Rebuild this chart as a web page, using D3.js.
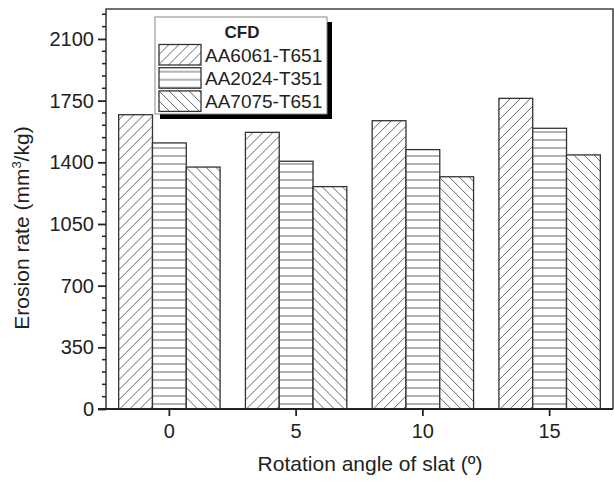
<!DOCTYPE html>
<html>
<head>
<meta charset="utf-8">
<script src="https://cdn.jsdelivr.net/npm/d3@7"></script>
<style>
  body { margin: 0; background: #fff; }
  svg { font-family: "Liberation Sans", Arial, sans-serif; }
</style>
</head>
<body>
<svg width="614" height="482"></svg>
<script>
// chart data
var angles = ["0", "5", "10", "15"];
var seriesNames = ["AA6061-T651", "AA2024-T351", "AA7075-T651"];
var aa6061 = [1670, 1570, 1636, 1763];
var aa2024 = [1510, 1406, 1472, 1593];
var aa7075 = [1373, 1262, 1318, 1442];
var yTicks = [0, 350, 700, 1050, 1400, 1750, 2100];

var seriesValues = [aa6061, aa2024, aa7075];
var patternIds = ["hatchFwd", "hatchHor", "hatchBack"];

var svg = d3.select("svg");
var plotL = 106, plotR = 613, plotT = 9, plotB = 409;

var x0 = d3.scaleBand()
    .domain(angles)
    .range([plotL, plotR])
    .paddingInner(0.2)
    .paddingOuter(0.1);

var x1 = d3.scaleBand()
    .domain(seriesNames)
    .range([0, x0.bandwidth()]);

var y = d3.scaleLinear()
    .domain([0, 2270])
    .range([plotB, plotT]);

// hatch patterns
var defs = svg.append("defs");
function addPattern(id, path, w, h) {
    var p = defs.append("pattern")
        .attr("id", id)
        .attr("patternUnits", "userSpaceOnUse")
        .attr("width", w)
        .attr("height", h);
    p.append("rect").attr("width", w).attr("height", h).attr("fill", "#fff");
    p.append("path")
        .attr("d", path)
        .attr("stroke", "#666")
        .attr("stroke-width", 1)
        .attr("fill", "none");
}
addPattern("hatchFwd", "M0,10L10,0M-2,2L2,-2M8,12L12,8", 10, 10);
addPattern("hatchHor", "M0,4L8,4", 8, 8);
addPattern("hatchBack", "M0,0L10,10M8,-2L12,2M-2,8L2,12", 10, 10);

// bars
var rows = angles.map(function(a, i) {
    return seriesNames.map(function(s, j) {
        return { angle: a, series: s, value: seriesValues[j][i], k: j };
    });
});

svg.append("g").selectAll("g")
    .data(rows)
    .enter().append("g")
    .attr("transform", function(d, i) { return "translate(" + x0(angles[i]) + ",0)"; })
    .selectAll("rect")
    .data(function(d) { return d; })
    .enter().append("rect")
    .attr("x", function(d) { return x1(d.series); })
    .attr("y", function(d) { return y(d.value); })
    .attr("width", x1.bandwidth())
    .attr("height", function(d) { return plotB - y(d.value); })
    .attr("fill", function(d) { return "url(#" + patternIds[d.k] + ")"; })
    .attr("stroke", "#333")
    .attr("stroke-width", 1.3);

// frame
svg.append("path")
    .attr("d", "M" + plotL + "," + plotB + "V" + plotT + "H" + plotR + "V" + plotB)
    .attr("fill", "none")
    .attr("stroke", "#444")
    .attr("stroke-width", 1.6);

// y axis
var yAxis = d3.axisLeft(y)
    .tickValues(yTicks)
    .tickFormat(d3.format("d"))
    .tickSize(8)
    .tickPadding(4);
var gy = svg.append("g")
    .attr("transform", "translate(" + plotL + ",0)")
    .call(yAxis);
gy.select(".domain").remove();
gy.selectAll(".tick line").attr("stroke", "#222").attr("stroke-width", 1.8);
gy.selectAll(".tick text")
    .attr("font-size", 20)
    .attr("fill", "#222")
    .attr("font-family", "Liberation Sans, Arial, sans-serif");

// minor y ticks
var minor = d3.range(70, 2270, 70).filter(function(v) { return v % 350 !== 0; });
svg.append("g").selectAll("line")
    .data(minor)
    .enter().append("line")
    .attr("x1", plotL - 4)
    .attr("x2", plotL)
    .attr("y1", function(d) { return y(d); })
    .attr("y2", function(d) { return y(d); })
    .attr("stroke", "#222")
    .attr("stroke-width", 1.5);

// x axis
var xAxis = d3.axisBottom(x0)
    .tickSize(7)
    .tickPadding(8);
var gx = svg.append("g")
    .attr("transform", "translate(0," + plotB + ")")
    .call(xAxis);
gx.select(".domain").remove();
gx.selectAll(".tick line").attr("stroke", "#222").attr("stroke-width", 1.8);
gx.selectAll(".tick text")
    .attr("font-size", 20)
    .attr("fill", "#222")
    .attr("font-family", "Liberation Sans, Arial, sans-serif");

svg.append("line")
    .attr("x1", 98).attr("x2", plotR)
    .attr("y1", plotB).attr("y2", plotB)
    .attr("stroke", "#222")
    .attr("stroke-width", 1.8);

// axis titles
svg.append("text")
    .attr("x", 370)
    .attr("y", 471)
    .attr("text-anchor", "middle")
    .attr("font-size", 21)
    .attr("fill", "#222")
    .text("Rotation angle of slat (º)");

var yt = svg.append("text")
    .attr("transform", "translate(29,228) rotate(-90)")
    .attr("text-anchor", "middle")
    .attr("font-size", 21)
    .attr("fill", "#222");
yt.append("tspan").text("Erosion rate (mm");
yt.append("tspan").attr("font-size", 13).attr("dy", -8).text("3");
yt.append("tspan").attr("dy", 8).text("/kg)");

// legend
var lg = svg.append("g");
lg.append("rect")
    .attr("x", 160).attr("y", 22)
    .attr("width", 172).attr("height", 97)
    .attr("fill", "#000");
lg.append("rect")
    .attr("x", 155).attr("y", 17)
    .attr("width", 172).attr("height", 97)
    .attr("fill", "#fff")
    .attr("stroke", "#888")
    .attr("stroke-width", 1);
lg.append("text")
    .attr("x", 242).attr("y", 38)
    .attr("text-anchor", "middle")
    .attr("font-size", 17)
    .attr("font-weight", "bold")
    .attr("fill", "#222")
    .text("CFD");
var item = lg.selectAll("g.item")
    .data(seriesNames)
    .enter().append("g")
    .attr("class", "item")
    .attr("transform", function(d, i) { return "translate(159," + (44.5 + i * 23.2) + ")"; });
item.append("rect")
    .attr("width", 42).attr("height", 20.5)
    .attr("fill", function(d, i) { return "url(#" + patternIds[i] + ")"; })
    .attr("stroke", "#333")
    .attr("stroke-width", 1.3);
item.append("text")
    .attr("x", 46).attr("y", 17)
    .attr("font-size", 19)
    .attr("fill", "#222")
    .text(function(d) { return d; });
</script>
</body>
</html>
